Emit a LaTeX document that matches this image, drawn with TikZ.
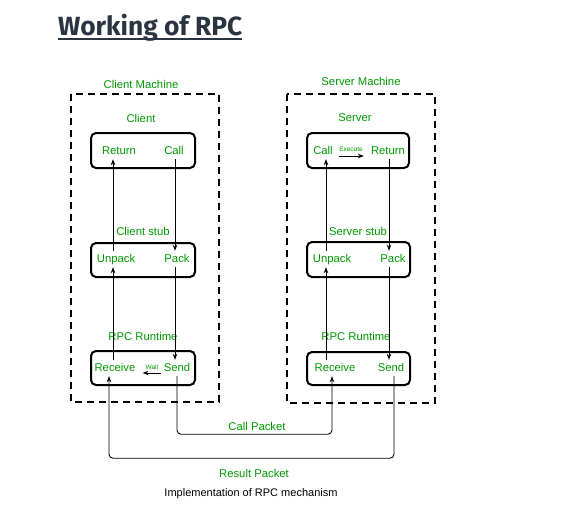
\documentclass[tikz,border=0pt]{standalone}
\usepackage{fontspec}
\setmainfont{Liberation Sans}
\newfontfamily\titlefont{Fira Sans}
\usetikzlibrary{arrows.meta,calc}
\definecolor{lblgreen}{HTML}{009900}
\definecolor{titlegray}{HTML}{2B3441}
\begin{document}
\begin{tikzpicture}[x=1pt,y=-1pt,
  lbl/.style={text=lblgreen,font=\fontsize{11.3}{13}\selectfont,inner sep=0pt},
  itm/.style={text=lblgreen,font=\fontsize{11.3}{13}\selectfont,inner sep=3pt,text height=8pt,text depth=2pt},
  tiny/.style={text=lblgreen,font=\fontsize{6.5}{7}\selectfont,inner sep=0pt},
  machine/.style={draw,line width=2.2pt,dash pattern=on 7pt off 5pt},
  procbox/.style={draw,line width=2pt,rounded corners=5pt},
  arr/.style={line width=0.9pt,-{Stealth[length=6pt,width=4.5pt]}},
  pkt/.style={line width=0.9pt,rounded corners=4pt,-{Stealth[length=6pt,width=4.5pt]}}]
\useasboundingbox (0,0) rectangle (562,525);
% title
\node[anchor=base west,inner sep=0pt,text=titlegray,font=\titlefont\bfseries\fontsize{25}{28}\selectfont] (title) at (58,35) {\resizebox{184pt}{!}{Working of RPC}};
\draw[titlegray,line width=2pt] (58,39) -- (242,39);
% machines
\draw[machine] (71,94) rectangle (219,402);
\draw[machine] (287,94) rectangle (435,403);
\node[lbl] (cm) at (141,84) {Client Machine};
\node[lbl] (sm) at (361,81) {Server Machine};
% client
\node[lbl] (cl) at (141,118) {Client};
\node[lbl] (cs) at (143,231) {Client stub};
\node[lbl] (cr) at (143,336) {RPC Runtime};
\draw[procbox] (91,133) rectangle (195,168);
\draw[procbox] (91,243) rectangle (195,277);
\draw[procbox] (91,351) rectangle (195,385);
\node[itm] (cReturn) at (119,151) {Return};
\node[itm] (cCall) at (174,151) {Call};
\node[itm] (cUnpack) at (116,259) {Unpack};
\node[itm] (cPack) at (177,259) {Pack};
\node[itm] (cReceive) at (115,368) {Receive};
\node[itm] (cSend) at (177,368) {Send};
\node[tiny] (wait) at (152,367) {Wait};
% server
\node[lbl] (sl) at (355,118) {Server};
\node[lbl] (ss) at (358,231) {Server stub};
\node[lbl] (sr) at (356,336) {RPC Runtime};
\draw[procbox] (307,133) rectangle (409,168);
\draw[procbox] (307,242) rectangle (410,277);
\draw[procbox] (307,352) rectangle (410,385);
\node[itm] (sCall) at (323,151) {Call};
\node[itm] (sReturn) at (388,151) {Return};
\node[itm] (sUnpack) at (332,259) {Unpack};
\node[itm] (sPack) at (393,259) {Pack};
\node[itm] (sReceive) at (335,368) {Receive};
\node[itm] (sSend) at (391,368) {Send};
\node[tiny] (exec) at (351,149) {Execute};
% client arrows
\draw[arr] ([xshift=1pt]cCall.south) -- ([xshift=1pt]cCall.south |- cPack.north);
\draw[arr] ([xshift=-2pt]cPack.south) -- ([xshift=-2pt]cPack.south |- cSend.north);
\draw[arr] ([xshift=-3pt]cUnpack.north) -- ([xshift=-3pt]cUnpack.north |- cReturn.south);
\draw[arr] ([xshift=-2pt]cReceive.north) -- ([xshift=-2pt]cReceive.north |- cUnpack.south);
\draw[arr] ($(cSend.west)+(0,5)$) -- ($(cReceive.east)+(4,5)$);
% server arrows
\draw[arr] ($(sCall.east)+(3,5)$) -- ($(sReturn.west)+(-4,5)$);
\draw[arr] ([xshift=1pt]sReturn.south) -- ([xshift=1pt]sReturn.south |- sPack.north);
\draw[arr] ([xshift=-4pt]sPack.south) -- ([xshift=-4pt]sPack.south |- sSend.north);
\draw[arr] ([xshift=-6pt]sUnpack.north) -- ([xshift=-6pt]sUnpack.north |- sCall.south);
\draw[arr] ([xshift=-9pt]sReceive.north) -- ([xshift=-9pt]sReceive.north |- sUnpack.south);
% packets
\draw[pkt] (cSend.south) -- ++(0,58) -| ([xshift=-3pt]sReceive.south);
\draw[pkt] ([xshift=3pt]sSend.south) -- ++(0,82) -| ([xshift=-6pt]cReceive.south);
\node[lbl] (cp) at (257,426) {Call Packet};
\node[lbl] (rp) at (254,473) {Result Packet};
\node[font=\fontsize{11}{13}\selectfont,inner sep=0pt] (cap) at (251,494) {Implementation of RPC mechanism};
\end{tikzpicture}
\end{document}
